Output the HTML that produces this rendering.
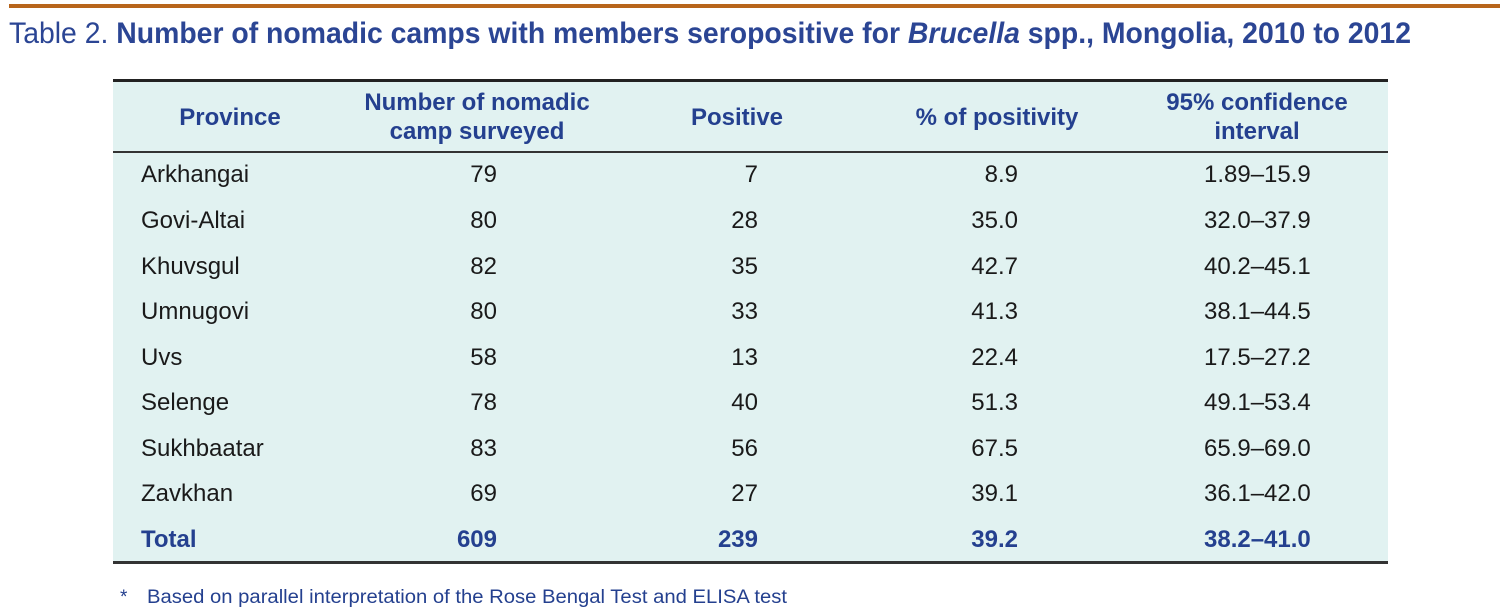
<!DOCTYPE html>
<html><head><meta charset="utf-8"><style>
html,body{margin:0;padding:0;background:#fff;width:1500px;height:612px;overflow:hidden}
svg{display:block}
text{font-family:"Liberation Sans",sans-serif}
</style></head><body>
<svg width="1500" height="612" viewBox="0 0 1500 612">
<rect x="9" y="4" width="1491" height="4" fill="#b8651b"/>
<text x="9" y="43" font-size="30" fill="#2b4594" textLength="1402" lengthAdjust="spacingAndGlyphs"><tspan>Table 2. </tspan><tspan font-weight="bold">Number of nomadic camps with members seropositive for </tspan><tspan font-weight="bold" font-style="italic">Brucella</tspan><tspan font-weight="bold"> spp., Mongolia, 2010 to 2012</tspan></text>
<rect x="113" y="80" width="1275" height="482" fill="#e1f2f1"/>
<rect x="113" y="79" width="1275" height="3" fill="#222"/>
<rect x="113" y="151" width="1275" height="2" fill="#333"/>
<rect x="113" y="561" width="1275" height="3" fill="#333"/>
<g font-size="24" font-weight="bold" fill="#24408f" text-anchor="middle">
<text x="230" y="125">Province</text>
<text x="477" y="110">Number of nomadic</text>
<text x="477" y="139">camp surveyed</text>
<text x="737" y="125">Positive</text>
<text x="997" y="125">% of positivity</text>
<text x="1257" y="110">95% confidence</text>
<text x="1257" y="139">interval</text>
</g>
<g font-size="24" fill="#1a1a1a">
<g>
<text x="141" y="182">Arkhangai</text>
<text x="141" y="228">Govi-Altai</text>
<text x="141" y="274">Khuvsgul</text>
<text x="141" y="319">Umnugovi</text>
<text x="141" y="365">Uvs</text>
<text x="141" y="410">Selenge</text>
<text x="141" y="456">Sukhbaatar</text>
<text x="141" y="501">Zavkhan</text>
</g>
<g text-anchor="end">
<text x="497" y="182">79</text><text x="497" y="228">80</text><text x="497" y="274">82</text><text x="497" y="319">80</text><text x="497" y="365">58</text><text x="497" y="410">78</text><text x="497" y="456">83</text><text x="497" y="501">69</text>
<text x="758" y="182">7</text><text x="758" y="228">28</text><text x="758" y="274">35</text><text x="758" y="319">33</text><text x="758" y="365">13</text><text x="758" y="410">40</text><text x="758" y="456">56</text><text x="758" y="501">27</text>
<text x="1018" y="182">8.9</text><text x="1018" y="228">35.0</text><text x="1018" y="274">42.7</text><text x="1018" y="319">41.3</text><text x="1018" y="365">22.4</text><text x="1018" y="410">51.3</text><text x="1018" y="456">67.5</text><text x="1018" y="501">39.1</text>
</g>
<g>
<text x="1204" y="182">1.89–15.9</text><text x="1204" y="228">32.0–37.9</text><text x="1204" y="274">40.2–45.1</text><text x="1204" y="319">38.1–44.5</text><text x="1204" y="365">17.5–27.2</text><text x="1204" y="410">49.1–53.4</text><text x="1204" y="456">65.9–69.0</text><text x="1204" y="501">36.1–42.0</text>
</g>
</g>
<g font-size="24" font-weight="bold" fill="#24408f">
<text x="141" y="547">Total</text>
<text x="497" y="547" text-anchor="end">609</text>
<text x="758" y="547" text-anchor="end">239</text>
<text x="1018" y="547" text-anchor="end">39.2</text>
<text x="1204" y="547">38.2–41.0</text>
</g>
<text x="120" y="603" font-size="19" fill="#24408f">*</text>
<text x="147" y="603" font-size="19" fill="#24408f" textLength="640" lengthAdjust="spacingAndGlyphs">Based on parallel interpretation of the Rose Bengal Test and ELISA test</text>
</svg>
</body></html>
